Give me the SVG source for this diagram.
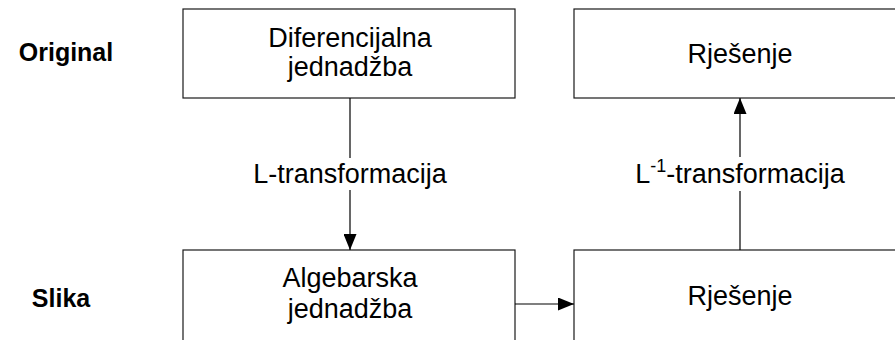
<svg xmlns="http://www.w3.org/2000/svg" width="895" height="340" viewBox="0 0 895 340">
  <style>
    .box { fill: #ffffff; stroke: #1a1a1a; stroke-width: 1.2; }
    .txt { font-family: "Liberation Sans", Arial, sans-serif; font-size: 27px; fill: #000000; text-anchor: middle; }
    .lbl { font-family: "Liberation Sans", Arial, sans-serif; font-size: 25px; font-weight: bold; fill: #000000; text-anchor: middle; }
    .con { stroke: #000000; stroke-width: 1.2; fill: none; }
  </style>
  <defs>
    <marker id="arrow" viewBox="0 0 16 13" refX="16" refY="6.5" markerWidth="16" markerHeight="13" markerUnits="userSpaceOnUse" orient="auto">
      <path d="M0,0 L16,6.5 L0,13 Z" fill="#000000"/>
    </marker>
  </defs>
  <rect width="895" height="340" fill="#ffffff"/>

  <g id="label-original"><text class="lbl" x="66" y="61">Original</text></g>
  <g id="label-slika"><text class="lbl" x="61" y="307">Slika</text></g>

  <g id="node-diferencijalna">
    <rect class="box" x="183" y="9" width="332" height="89"/>
    <text class="txt" x="350" y="47">Diferencijalna</text>
    <text class="txt" x="350" y="76">jednadžba</text>
  </g>
  <g id="node-rjesenje-top">
    <rect class="box" x="574" y="9" width="340" height="89"/>
    <text class="txt" x="740" y="63">Rješenje</text>
  </g>
  <g id="node-algebarska">
    <rect class="box" x="183" y="250" width="332" height="110"/>
    <text class="txt" x="350" y="287">Algebarska</text>
    <text class="txt" x="350" y="318">jednadžba</text>
  </g>
  <g id="node-rjesenje-bottom">
    <rect class="box" x="574" y="250" width="340" height="110"/>
    <text class="txt" x="740" y="305">Rješenje</text>
  </g>

  <g id="connectors">
    <path class="con" d="M350,98 L350,158"/>
    <path class="con" d="M350,190 L350,250" marker-end="url(#arrow)"/>
    <text class="txt" x="350" y="183">L-transformacija</text>
    <path class="con" d="M515,304 L574,304" marker-end="url(#arrow)"/>
    <path class="con" d="M740,250 L740,191"/>
    <path class="con" d="M740,157 L740,98" marker-end="url(#arrow)"/>
    <text class="txt" x="740" y="183">L<tspan font-size="18" dy="-11">-1</tspan><tspan dy="11">-transformacija</tspan></text>
  </g>
</svg>
